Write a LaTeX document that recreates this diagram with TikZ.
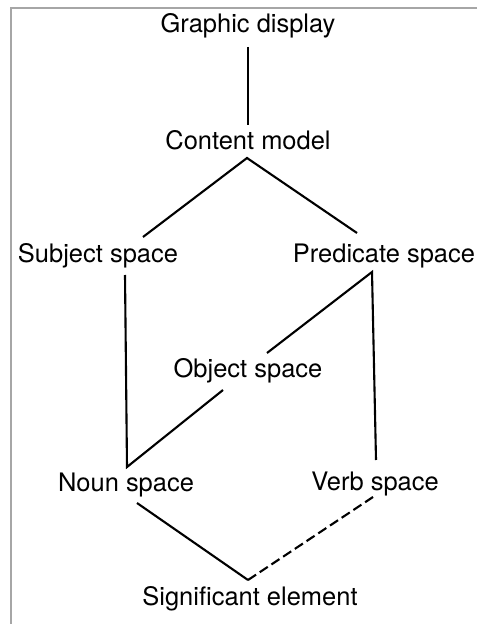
\documentclass[tikz,border=0pt]{standalone}
\usepackage{fontspec}
\setmainfont{TeX Gyre Heros}
\usetikzlibrary{calc}

\begin{document}
\begin{tikzpicture}[
    x=0.02cm, y=-0.02cm,
    term/.style={inner sep=0pt, outer sep=0pt, anchor=base, font=\fontsize{14.5}{17}\selectfont},
    link/.style={draw=black, line width=1.2pt},
    weak/.style={link, dash pattern=on 5.5pt off 2.5pt},
    frame/.style={draw=black!35, line width=0.9pt},
]

% ---- Layout ----
\path[use as bounding box] (0,0) rectangle (477,624);
\draw[frame] (477,8) -- (11,8) -- (11,624);

% ---- Terms ----
\node[term] (gd) at (248,33)  {Graphic display};
\node[term] (cm) at (248,150) {Content model};
\node[term] (ss) at (98,263)  {Subject space};
\node[term] (ps) at (384,263) {Predicate space};
\node[term] (os) at (248,377) {Object space};
\node[term] (ns) at (126,491) {Noun space};
\node[term] (vs) at (375,490) {Verb space};
\node[term] (se) at (250,605) {Significant element};

% ---- Links ----
\draw[link] ($(gd.base)+(0,14)$) -- ($(cm.base)+(0,-25)$);
\draw[link] ($(ss.base)+(45,-26)$) -- ($(cm.base)+(-1,8)$) -- ($(ps.base)+(-27,-30)$);
\draw[link] ($(ss.base)+(27,12)$) -- ($(ns.base)+(1,-24)$) -- ($(os.base)+(-25,13)$);
\draw[link] ($(os.base)+(19,-24)$) -- ($(ps.base)+(-12,9)$) -- ($(vs.base)+(1,-30)$);
\draw[link] ($(ns.base)+(11,12)$) -- ($(se.base)+(-2,-25)$);
\draw[weak] ($(se.base)+(-2,-25)$) -- ($(vs.base)+(-2,7)$);

\end{tikzpicture}
\end{document}
